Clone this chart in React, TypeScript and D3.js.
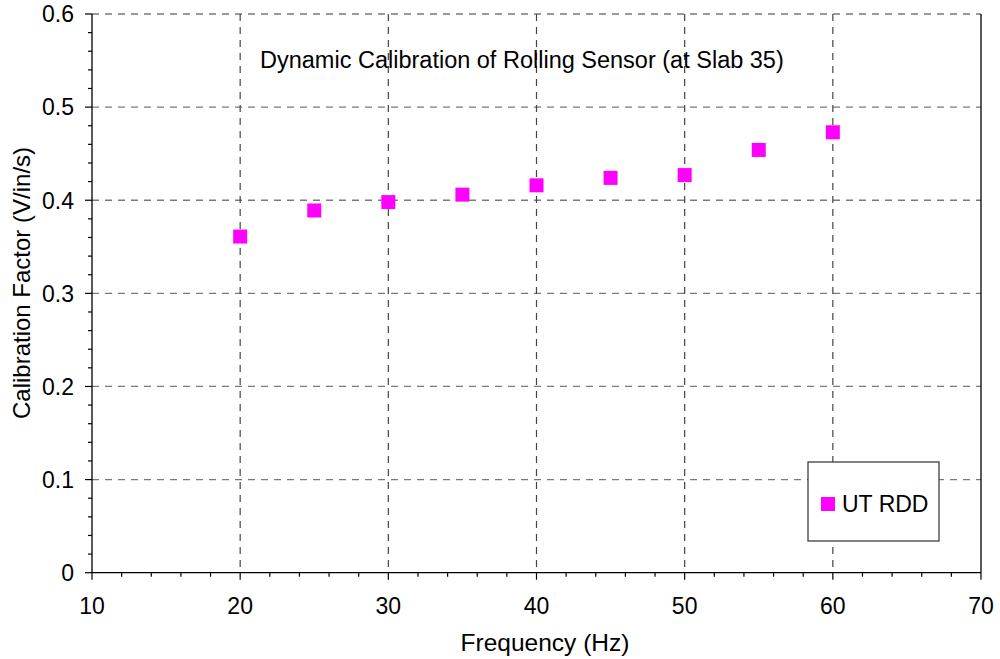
import React from "react";
import * as d3 from "d3";

const frequencies = [20, 25, 30, 35, 40, 45, 50, 55, 60];
const calibration = [0.361, 0.389, 0.398, 0.406, 0.416, 0.424, 0.427, 0.454, 0.473];
const xTicks = [10, 20, 30, 40, 50, 60, 70];
const yTicks = [0, 0.1, 0.2, 0.3, 0.4, 0.5, 0.6];
const seriesName = "UT RDD";
const chartTitle = "Dynamic Calibration of Rolling Sensor (at Slab 35)";
const xTitle = "Frequency (Hz)";
const yTitle = "Calibration Factor (V/in/s)";

const W = 1000;
const H = 659;
const left = 92;
const right = 981;
const top = 14;
const bottom = 572.7;

export default function App() {
  const x = d3.scaleLinear().domain([10, 70]).range([left, right]);
  const y = d3.scaleLinear().domain([0, 0.6]).range([bottom, top]);
  const xMinor = d3.range(10, 70.001, 2);
  const yMinor = d3.range(0, 0.6001, 0.02);
  const font = "Arial, 'Liberation Sans', sans-serif";
  const grid = "#7a7a7a";
  const ms = 14;
  return (
    <svg width={W} height={H} style={{ position: "absolute", left: 0, top: 0, background: "#fff" }} fontFamily={font}>
      <rect x={0} y={0} width={W} height={H} fill="#fff" />
      {/* grid */}
      {yTicks.filter((t) => t > 0).map((t) => (
        <line key={"gy" + t} x1={left} x2={right} y1={y(t)} y2={y(t)} stroke={grid} strokeWidth={1.3} strokeDasharray="7,6" />
      ))}
      {xTicks.filter((t) => t > 10 && t < 70).map((t) => (
        <line key={"gx" + t} x1={x(t)} x2={x(t)} y1={top} y2={bottom} stroke="#444" strokeWidth={1.2} strokeDasharray="7,6" />
      ))}
      {/* axes */}
      <line x1={left} x2={left} y1={top} y2={bottom} stroke="#000" strokeWidth={1.3} />
      <line x1={right} x2={right} y1={top} y2={bottom} stroke="#000" strokeWidth={1.3} />
      <line x1={left} x2={right} y1={bottom} y2={bottom} stroke="#000" strokeWidth={1.3} />
      {yMinor.map((t, i) => (
        <line key={"ym" + i} x1={left - (i % 5 === 0 ? 7 : 4)} x2={left} y1={y(t)} y2={y(t)} stroke="#000" strokeWidth={1.2} />
      ))}
      {xMinor.map((t, i) => (
        <line key={"xm" + i} x1={x(t)} x2={x(t)} y1={bottom} y2={bottom + (i % 5 === 0 ? 7 : 4)} stroke="#000" strokeWidth={1.2} />
      ))}
      {yTicks.map((t) => (
        <text key={"yl" + t} x={74} y={y(t)} dy="0.36em" textAnchor="end" fontSize={23} fill="#000">
          {d3.format("~g")(t)}
        </text>
      ))}
      {xTicks.map((t) => (
        <text key={"xl" + t} x={x(t)} y={614} textAnchor="middle" fontSize={23} fill="#000">
          {t}
        </text>
      ))}
      {/* titles */}
      <text x={260} y={68} textAnchor="start" fontSize={23.5} fill="#000">{chartTitle}</text>
      <text x={545} y={651} textAnchor="middle" fontSize={24.5} fill="#000">{xTitle}</text>
      <text transform={`translate(30,283) rotate(-90)`} textAnchor="middle" fontSize={24} fill="#000">{yTitle}</text>
      {/* points */}
      {frequencies.map((f, i) => (
        <rect key={"p" + i} x={x(f) - ms / 2} y={y(calibration[i]) - ms / 2} width={ms} height={ms} fill="#ff00ff" />
      ))}
      {/* legend */}
      <rect x={808} y={462} width={131} height={79} fill="#fff" stroke="#404040" strokeWidth={1.3} />
      <rect x={828 - 7} y={504 - 7} width={14} height={14} fill="#ff00ff" />
      <text x={842} y={512} fontSize={23} fill="#000">{seriesName}</text>
    </svg>
  );
}
